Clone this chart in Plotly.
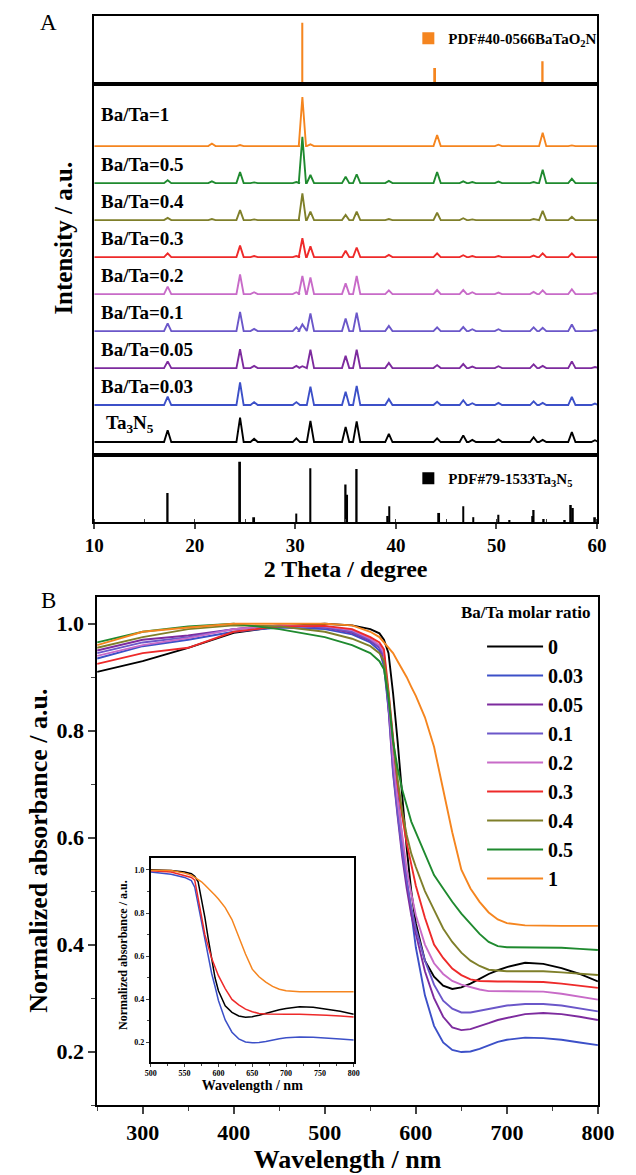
import plotly.graph_objects as go

W, H = 636, 1175
SERIF = "Liberation Serif"

# ---------------- Panel A data ----------------
xrd_names = ["Ta<sub>3</sub>N<sub>5</sub>", "Ba/Ta=0.03", "Ba/Ta=0.05", "Ba/Ta=0.1",
             "Ba/Ta=0.2", "Ba/Ta=0.3", "Ba/Ta=0.4", "Ba/Ta=0.5", "Ba/Ta=1"]
xrd_colors = ["#000000", "#3C50C8", "#7D2B9E", "#6B57C9", "#C86BC8",
              "#EE2A2A", "#7F7F2A", "#1F8A2F", "#F5851F"]
peak_2theta = [17.3, 21.7, 24.5, 25.9, 30.1, 30.7, 31.5, 35.0, 36.1, 39.3,
               44.1, 46.7, 47.6, 50.2, 53.7, 54.6, 57.5, 59.8]
h_ta3n5 = [0.32, 0, 0.66, 0.09, 0.10, 0, 0.57, 0.41, 0.56, 0.22, 0.10, 0.18, 0.06, 0.07, 0.13, 0.06, 0.27, 0.05]
h_003 = [0.23, 0, 0.61, 0.08, 0.08, 0, 0.50, 0.36, 0.52, 0.16, 0.09, 0.13, 0.05, 0.06, 0.10, 0.06, 0.22, 0.04]
h_005 = [0.18, 0, 0.51, 0.06, 0.06, 0.05, 0.50, 0.33, 0.50, 0.14, 0.08, 0.11, 0.04, 0.05, 0.10, 0.06, 0.18, 0.03]
h_01 = [0.21, 0, 0.52, 0.06, 0.10, 0.18, 0.48, 0.34, 0.50, 0.14, 0.10, 0.11, 0.05, 0.05, 0.10, 0.09, 0.18, 0.03]
h_02 = [0.20, 0, 0.53, 0.05, 0.05, 0.49, 0.45, 0.29, 0.49, 0.10, 0.11, 0.11, 0.05, 0.04, 0.06, 0.10, 0.13, 0.03]
h_03 = [0.10, 0, 0.31, 0.03, 0.03, 0.51, 0.29, 0.17, 0.26, 0.06, 0.10, 0.05, 0.03, 0.03, 0.04, 0.10, 0.10, 0.02]
h_04 = [0.06, 0.03, 0.27, 0.02, 0.02, 0.72, 0.23, 0.14, 0.23, 0.03, 0.20, 0.05, 0.02, 0.02, 0.03, 0.25, 0.09, 0.02]
h_05 = [0.08, 0.05, 0.30, 0.02, 0.03, 1.25, 0.22, 0.17, 0.24, 0.06, 0.30, 0.05, 0.03, 0.04, 0.03, 0.36, 0.12, 0.02]
h_1 = [0, 0.07, 0.03, 0, 0.02, 1.33, 0.05, 0, 0, 0, 0.30, 0, 0, 0.04, 0, 0.36, 0.02, 0]
xrd_heights = [h_ta3n5, h_003, h_005, h_01, h_02, h_03, h_04, h_05, h_1]
xrd_offsets = [0.35, 1.35, 2.35, 3.35, 4.35, 5.35, 6.35, 7.35, 8.35]

bto_pdf_2theta = [21.5, 30.7, 43.9, 49.6, 54.6]
bto_pdf_int = [3, 100, 26, 1.5, 37]
ta3n5_pdf_2theta = [17.3, 24.5, 25.9, 30.1, 31.5, 35.0, 35.15, 36.1, 39.2, 39.35, 44.3,
                    46.7, 47.7, 50.2, 51.3, 53.6, 53.7, 54.7, 56.8, 57.4, 57.6, 59.8]
ta3n5_pdf_int = [48, 100, 8, 14, 89, 62, 45, 88, 10, 26, 15, 26, 8, 12, 3, 10, 20, 5, 3, 28, 23, 8]

# ---------------- Panel B data ----------------
wavelength = [250, 300, 350, 400, 450, 500, 530, 550, 560, 565, 570, 575, 580, 585, 590, 595,
              600, 610, 620, 630, 640, 650, 660, 670, 680, 690, 700, 720, 740, 760, 780, 800]
ratio_labels = ["0", "0.03", "0.05", "0.1", "0.2", "0.3", "0.4", "0.5", "1"]
abs_0 = [0.910, 0.930, 0.955, 0.983, 0.995, 1.000, 0.997, 0.990, 0.982, 0.970, 0.945, 0.870, 0.780, 0.680, 0.580, 0.500,
         0.440, 0.370, 0.340, 0.323, 0.317, 0.320, 0.327, 0.336, 0.345, 0.352, 0.358, 0.366, 0.364, 0.356, 0.345, 0.331]
abs_003 = [0.935, 0.958, 0.970, 0.985, 0.993, 0.990, 0.980, 0.965, 0.950, 0.920, 0.840, 0.760, 0.680, 0.600, 0.520, 0.460,
           0.395, 0.305, 0.248, 0.217, 0.203, 0.199, 0.200, 0.205, 0.212, 0.218, 0.222, 0.226, 0.225, 0.222, 0.217, 0.212]
abs_005 = [0.950, 0.970, 0.978, 0.990, 0.997, 0.993, 0.983, 0.968, 0.955, 0.935, 0.840, 0.720, 0.640, 0.565, 0.505, 0.455,
           0.420, 0.350, 0.300, 0.265, 0.245, 0.240, 0.242, 0.247, 0.253, 0.259, 0.263, 0.270, 0.272, 0.270, 0.265, 0.259]
abs_01 = [0.945, 0.965, 0.975, 0.990, 0.997, 0.994, 0.985, 0.970, 0.957, 0.940, 0.845, 0.725, 0.645, 0.575, 0.520, 0.470,
          0.430, 0.370, 0.325, 0.295, 0.280, 0.273, 0.273, 0.276, 0.280, 0.283, 0.286, 0.289, 0.289, 0.286, 0.281, 0.275]
abs_02 = [0.940, 0.960, 0.973, 0.990, 0.997, 0.995, 0.988, 0.972, 0.960, 0.945, 0.865, 0.750, 0.670, 0.600, 0.540, 0.495,
          0.455, 0.400, 0.365, 0.345, 0.332, 0.325, 0.320, 0.316, 0.313, 0.313, 0.313, 0.313, 0.312, 0.308, 0.303, 0.297]
abs_03 = [0.925, 0.945, 0.955, 0.985, 0.995, 0.996, 0.990, 0.975, 0.965, 0.952, 0.875, 0.785, 0.700, 0.640, 0.590, 0.550,
          0.510, 0.450, 0.400, 0.375, 0.355, 0.343, 0.335, 0.332, 0.331, 0.331, 0.331, 0.331, 0.330, 0.327, 0.323, 0.319]
abs_04 = [0.955, 0.975, 0.990, 0.997, 0.995, 0.985, 0.972, 0.958, 0.945, 0.930, 0.870, 0.780, 0.710, 0.650, 0.605, 0.570,
          0.545, 0.500, 0.465, 0.430, 0.405, 0.385, 0.370, 0.360, 0.353, 0.351, 0.350, 0.350, 0.350, 0.348, 0.346, 0.343]
abs_05 = [0.965, 0.985, 0.995, 1.000, 0.990, 0.975, 0.960, 0.945, 0.930, 0.915, 0.860, 0.780, 0.730, 0.690, 0.660, 0.630,
          0.610, 0.570, 0.530, 0.505, 0.480, 0.458, 0.440, 0.420, 0.405, 0.397, 0.395, 0.395, 0.395, 0.394, 0.392, 0.390]
abs_1 = [0.960, 0.985, 0.993, 1.000, 1.000, 1.000, 0.997, 0.985, 0.975, 0.965, 0.955, 0.945, 0.930, 0.915, 0.900, 0.882,
         0.865, 0.825, 0.770, 0.690, 0.610, 0.540, 0.505, 0.480, 0.460, 0.447, 0.440, 0.436, 0.435, 0.435, 0.435, 0.435]
abs_series = [abs_0, abs_003, abs_005, abs_01, abs_02, abs_03, abs_04, abs_05, abs_1]
abs_colors = ["#000000", "#3C50C8", "#7D2B9E", "#6B57C9", "#C86BC8",
              "#EE2A2A", "#7F7F2A", "#1F8A2F", "#F5851F"]
inset_series = [0, 1, 5, 8]  # indices shown in the inset: 0, 0.03, 0.3, 1


def dx(a, b):
    return [a / W, b / W]


def dy(top, bottom):
    return [1 - bottom / H, 1 - top / H]


def f(size, bold=True):
    d = dict(family=SERIF, size=size, color="black")
    if bold:
        d["weight"] = "bold"
    return d


fig = go.Figure()

# ---- Panel A: reference sticks ----
fig.add_trace(go.Bar(x=bto_pdf_2theta, y=bto_pdf_int, width=0.18, marker=dict(color="#F5851F", line_width=0),
                     name="PDF#40-0566BaTaO<sub>2</sub>N", xaxis="x", yaxis="y", legend="legend2"))
fig.add_trace(go.Bar(x=ta3n5_pdf_2theta, y=ta3n5_pdf_int, width=0.18, marker=dict(color="#000000", line_width=0),
                     name="PDF#79-1533Ta<sub>3</sub>N<sub>5</sub>", xaxis="x3", yaxis="y3", legend="legend3"))

# ---- Panel A: stacked patterns ----
HW = 0.36
for name, col, hts, off in zip(xrd_names, xrd_colors, xrd_heights, xrd_offsets):
    xs, ys = [10], [off]
    for p, h in zip(peak_2theta, hts):
        if h <= 0:
            continue
        xs += [p - HW, p, p + HW]
        ys += [off, off + h, off]
    xs.append(60)
    ys.append(off)
    fig.add_trace(go.Scatter(x=xs, y=ys, mode="lines", line=dict(color=col, width=1.9),
                             name=name, showlegend=False, xaxis="x2", yaxis="y2"))

# ---- Panel B main ----
for lab, col, vals in zip(ratio_labels, abs_colors, abs_series):
    fig.add_trace(go.Scatter(x=wavelength, y=vals, mode="lines", line=dict(color=col, width=1.9),
                             name=lab, legendgroup=lab, xaxis="x4", yaxis="y4", legend="legend"))
# ---- Panel B inset ----
for i in inset_series:
    fig.add_trace(go.Scatter(x=wavelength, y=abs_series[i], mode="lines", line=dict(color=abs_colors[i], width=1.5),
                             name=ratio_labels[i], showlegend=False, xaxis="x5", yaxis="y5"))

box = dict(showline=True, mirror=True, linecolor="black", linewidth=1.6, showgrid=False, zeroline=False)
noticks = dict(showticklabels=False, ticks="")

annotations = []
for name, off in zip(xrd_names, xrd_offsets):
    dy_lab = 0.85 if name == "Ba/Ta=1" else 0.5
    annotations.append(dict(text=name, x=11.0 if name.startswith("Ta") else 10.45, y=off + dy_lab,
                            xref="x2", yref="y2", xanchor="left", yanchor="middle", showarrow=False,
                            font=f(19)))
annotations += [
    dict(text="A", x=40 / W, y=1 - 22 / H, xref="paper", yref="paper", xanchor="center", yanchor="middle",
         showarrow=False, font=f(23, False)),
    dict(text="B", x=40 / W, y=1 - 600 / H, xref="paper", yref="paper", xanchor="center", yanchor="middle",
         showarrow=False, font=f(23, False)),
    dict(text="Intensity / a.u.", x=56 / W, y=1 - 238 / H, xref="paper", yref="paper", xanchor="center",
         yanchor="middle", showarrow=False, textangle=-90, font=f(25)),
    dict(text="Normalized absorbance / a.u.", x=29 / W, y=1 - 851 / H, xref="paper", yref="paper",
         xanchor="center", yanchor="middle", showarrow=False, textangle=-90, font=f(26)),
    dict(text="Normalized absorbance / a.u.", x=118 / W, y=1 - 955 / H, xref="paper", yref="paper",
         xanchor="center", yanchor="middle", showarrow=False, textangle=-90, font=f(12)),
    dict(text="Ba/Ta molar ratio", x=608 / W, y=1 - 612 / H, xref="paper", yref="paper",
         xanchor="right", yanchor="middle", showarrow=False, font=f(17)),
]

fig.update_layout(
    width=W, height=H, margin=dict(l=0, r=0, t=0, b=0),
    paper_bgcolor="white", plot_bgcolor="white", barmode="overlay",
    xaxis=dict(domain=dx(88, 613), range=[10, 60], anchor="y", **box, **noticks),
    yaxis=dict(domain=dy(16, 84), range=[0, 111], anchor="x", **box, **noticks),
    xaxis2=dict(domain=dx(88, 613), range=[10, 60], anchor="y2", **box, **noticks),
    yaxis2=dict(domain=dy(84, 455), range=[0, 10.03], anchor="x2", **box, **noticks),
    xaxis3=dict(domain=dx(88, 613), range=[10, 60], anchor="y3", **box,
                tickmode="linear", tick0=10, dtick=10, ticks="outside", ticklen=5, tickwidth=1.6,
                minor=dict(dtick=5, ticks="inside", ticklen=3, tickwidth=1.2),
                tickfont=f(19), title=dict(text="2 Theta / degree", font=f(24), standoff=1)),
    yaxis3=dict(domain=dy(455, 522), range=[0, 111], anchor="x3", **box, **noticks),
    xaxis4=dict(domain=dx(91, 614), range=[250, 800], anchor="y4", **box,
                tickmode="linear", tick0=300, dtick=100, ticks="outside", ticklen=7, tickwidth=1.6,
                minor=dict(dtick=50, ticks="outside", ticklen=4, tickwidth=1.4),
                tickfont=f(22), title=dict(text="Wavelength / nm", font=f(26), standoff=4)),
    yaxis4=dict(domain=dy(597, 1105), range=[0.1, 1.05], anchor="x4", **box,
                tickmode="linear", tick0=0.2, dtick=0.2, tickformat=".1f", ticks="outside", ticklen=7,
                tickwidth=1.6, minor=dict(dtick=0.1, ticks="outside", ticklen=4, tickwidth=1.4),
                tickfont=f(22)),
    xaxis5=dict(domain=dx(147, 359), range=[500, 800], anchor="y5", **box,
                tickmode="linear", tick0=500, dtick=50, ticks="outside", ticklen=3, tickwidth=1,
                minor=dict(dtick=25, ticks="outside", ticklen=2, tickwidth=1),
                tickfont=f(8), title=dict(text="Wavelength / nm", font=f(14), standoff=1)),
    yaxis5=dict(domain=dy(858, 1062), range=[0.11, 1.055], anchor="x5", **box,
                tickmode="linear", tick0=0.2, dtick=0.2, tickformat=".1f", ticks="outside", ticklen=3,
                tickwidth=1, minor=dict(dtick=0.1, ticks="outside", ticklen=2, tickwidth=1),
                tickfont=f(8)),
    legend=dict(x=493 / W, y=1 - 627 / H, xanchor="left", yanchor="top", bgcolor="rgba(0,0,0,0)",
                font=f(20), itemwidth=56, tracegroupgap=2, traceorder="normal"),
    legend2=dict(x=416 / W, y=1 - 22 / H, xanchor="left", yanchor="top", bgcolor="rgba(0,0,0,0)",
                 font=f(15), itemwidth=30),
    legend3=dict(x=416 / W, y=1 - 462 / H, xanchor="left", yanchor="top", bgcolor="rgba(0,0,0,0)",
                 font=f(15), itemwidth=30),
    annotations=annotations,
)

fig.write_html("out.html", config={"displayModeBar": False},
               post_script="document.body.style.margin='0px';document.body.style.overflow='hidden';")
